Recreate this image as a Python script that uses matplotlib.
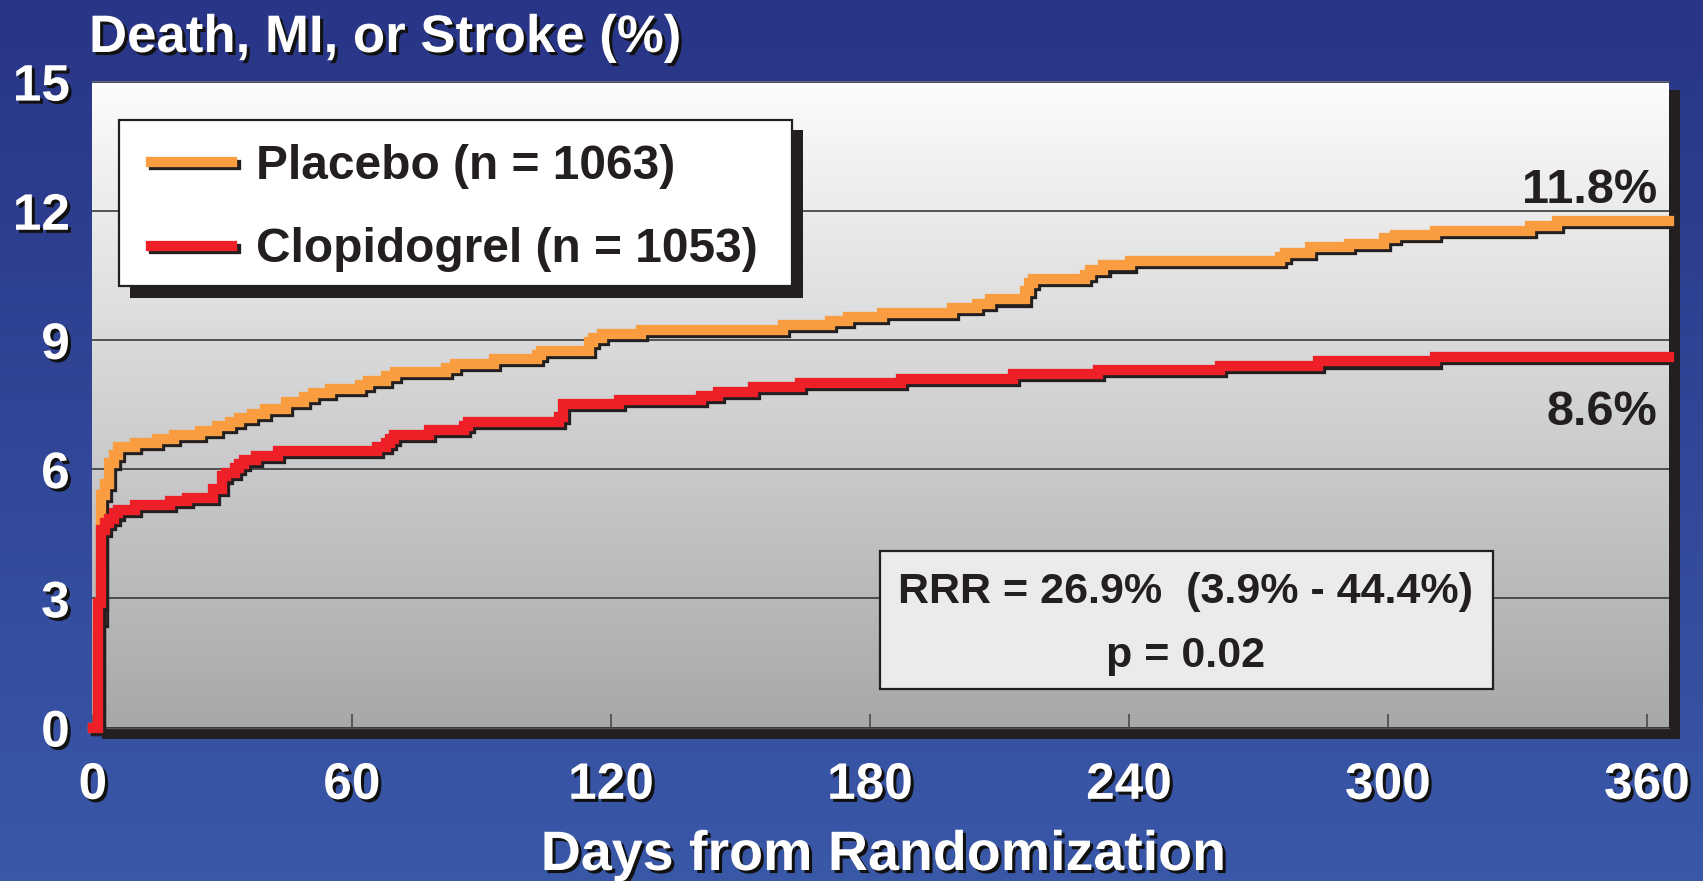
import numpy as np
import matplotlib
matplotlib.use("Agg")
import matplotlib.pyplot as plt
import matplotlib.patheffects as pe
from matplotlib.patches import Rectangle

# ---------------- data ----------------
placebo_days = [0, 1.1, 1.93, 2.86, 3.78, 4.94, 5.87, 9.81, 14.9, 18.8,
                24.9, 28.8, 31.8, 33.9, 36.9, 39.9, 44.8, 49.0, 51.0, 55.0,
                61.9, 63.8, 68.0, 70.0, 81.9, 83.9, 93.0, 102.9, 103.9, 115.0,
                115.9, 118.0, 127.0, 159.9, 170.8, 175.0, 182.9, 199.0, 204.9, 207.8,
                216.0, 216.9, 217.8, 229.9, 231.0, 234.1, 240.2, 274.9, 276.2, 282.0,
                291.0, 299.1, 301.7, 310.9, 333.0, 339.2, 365]
placebo_pct = [0, 2.5, 5.39, 5.66, 6.15, 6.33, 6.52, 6.61, 6.71, 6.80,
               6.89, 7.01, 7.10, 7.19, 7.28, 7.40, 7.56, 7.68, 7.77, 7.86,
               7.96, 8.05, 8.16, 8.26, 8.35, 8.44, 8.56, 8.65, 8.74, 8.95,
               9.04, 9.14, 9.23, 9.35, 9.44, 9.53, 9.62, 9.74, 9.83, 9.94,
               10.13, 10.32, 10.42, 10.52, 10.63, 10.73, 10.84, 10.93, 11.03, 11.15,
               11.23, 11.36, 11.44, 11.54, 11.65, 11.76, 11.76]

clopidogrel_days = [0, 1.1, 1.93, 2.86, 3.78, 4.94, 5.87, 9.81, 17.9, 21.9,
                    27.9, 30.0, 30.9, 33.0, 33.9, 35.1, 37.8, 42.9, 65.9, 68.0,
                    68.9, 69.8, 77.9, 86.0, 86.9, 108.0, 109.0, 121.9, 140.9, 144.9,
                    153.0, 163.9, 187.1, 213.1, 232.9, 261.0, 283.8, 310.9, 365]
clopidogrel_pct = [0, 2.88, 4.58, 4.76, 4.85, 4.97, 5.06, 5.16, 5.25, 5.34,
                   5.55, 5.83, 5.92, 6.03, 6.13, 6.22, 6.31, 6.43, 6.52, 6.61,
                   6.71, 6.80, 6.91, 7.01, 7.10, 7.22, 7.52, 7.61, 7.70, 7.79,
                   7.91, 8.00, 8.09, 8.20, 8.30, 8.39, 8.50, 8.60, 8.60]

series_labels = ["Placebo (n = 1063)", "Clopidogrel (n = 1053)"]
end_labels = ["11.8%", "8.6%"]
x_ticks = [0, 60, 120, 180, 240, 300, 360]
y_ticks = [0, 3, 6, 9, 12, 15]
title_text = "Death, MI, or Stroke (%)"
xlabel_text = "Days from Randomization"
stats_lines = ["RRR = 26.9%  (3.9% - 44.4%)", "p = 0.02"]

# ---------------- styling ----------------
plt.rcParams['font.family'] = ['Liberation Sans', 'DejaVu Sans']
plt.rcParams['font.weight'] = 'bold'

W, H = 1703, 881
def fx(px):
    return px / W
def fy(py):
    return 1 - py / H

ORANGE = '#F99D40'
RED = '#EE1F26'
DARK = '#231F20'

fig = plt.figure(figsize=(W / 100, H / 100), dpi=100)

# background
bg = fig.add_axes([0, 0, 1, 1], zorder=-5)
bg.axis('off')
t = np.linspace(0, 1, 256)[:, None]
top_c = np.array([41, 53, 134]) / 255
bot_c = np.array([58, 88, 168]) / 255
blue = (top_c[None, :] * (1 - t) + bot_c[None, :] * t)[:, None, :]
bg.imshow(blue, extent=[0, 1, 0, 1], aspect='auto', origin='upper', zorder=0)

L, R, B, T = 92, 1669, 727.5, 81.6
bg.add_patch(Rectangle((fx(L + 10), fy(B + 11)), fx(R + 11) - fx(L + 10), fy(T + 8) - fy(B + 11),
                       facecolor=DARK, edgecolor='none', zorder=1))
g_top = np.array([252, 252, 252]) / 255
g_bot = np.array([167, 168, 170]) / 255
gray = (g_top[None, :] * (1 - t) + g_bot[None, :] * t)[:, None, :]
bg.imshow(gray, extent=[fx(L), fx(R), fy(B), fy(T)], aspect='auto', origin='upper', zorder=2)
bg.set_xlim(0, 1)
bg.set_ylim(0, 1)

ax = fig.add_axes([fx(L), fy(B), fx(R) - fx(L), fy(T) - fy(B)])
ax.set_facecolor('none')

shadow = [pe.SimpleLineShadow(offset=(2.2, -2.2), shadow_color=DARK, alpha=1.0), pe.Normal()]
lp, = ax.step(placebo_days, placebo_pct, where='post', color=ORANGE, lw=7.4,
              solid_joinstyle='miter', clip_on=False, zorder=3, label=series_labels[0])
lc, = ax.step(clopidogrel_days, clopidogrel_pct, where='post', color=RED, lw=7.4,
              solid_joinstyle='miter', clip_on=False, zorder=3.1, label=series_labels[1])
lp.set_path_effects(shadow)
lc.set_path_effects(shadow)

ax.set_xlim(-0.2, 365.1)
ax.set_ylim(0, 15)
ax.set_xticks(x_ticks)
ax.set_yticks(y_ticks)
ax.set_xticklabels([str(v) for v in x_ticks])
ax.set_yticklabels([str(v) for v in y_ticks])
ax.yaxis.grid(True, color='#3a3a3a', lw=1.2, zorder=1)
ax.set_axisbelow(True)
ax.tick_params(axis='x', direction='in', length=10, width=1.2, color='#4a4a4a',
               pad=24, labelsize=37, labelcolor='white')
ax.tick_params(axis='y', length=0, pad=16, labelsize=37, labelcolor='white')
for s in ['left', 'right']:
    ax.spines[s].set_visible(False)
ax.spines['top'].set_color('#4a4a62')
ax.spines['top'].set_linewidth(1.2)
ax.spines['bottom'].set_color('#555555')
ax.spines['bottom'].set_linewidth(1.0)

txt_shadow = [pe.SimplePatchShadow(offset=(2.2, -2.2), shadow_rgbFace='#111111', alpha=1.0), pe.Normal()]
for lab in ax.get_xticklabels() + ax.get_yticklabels():
    lab.set_fontweight('bold')
    lab.set_path_effects(txt_shadow)

# title and x label
fig.text(fx(89), fy(52), title_text, fontsize=38, fontweight='bold', color='white',
         ha='left', va='baseline', path_effects=txt_shadow)
fig.text(fx(883), fy(870), xlabel_text, fontsize=40, fontweight='bold', color='white',
         ha='center', va='baseline', path_effects=txt_shadow)

# legend box
ax.add_patch(Rectangle((fx(130), fy(298)), fx(803) - fx(130), fy(130) - fy(298),
                       transform=fig.transFigure, facecolor=DARK, edgecolor='none',
                       zorder=4, clip_on=False))
ax.add_patch(Rectangle((fx(119), fy(286)), fx(792) - fx(119), fy(120) - fy(286),
                       transform=fig.transFigure, facecolor='white', edgecolor=DARK, lw=1.6,
                       zorder=4.1, clip_on=False))
leg = ax.legend(handles=[lp, lc], loc='upper left', bbox_to_anchor=(fx(151), fy(144)),
                bbox_transform=fig.transFigure, frameon=False, borderpad=0, borderaxespad=0,
                handlelength=1.7, handletextpad=0.5, labelspacing=0.8,
                prop={'family': 'Liberation Sans', 'weight': 'bold', 'size': 34.5})
for txt in leg.get_texts():
    txt.set_color(DARK)
leg.set_zorder(5)

# end labels
ax.text(fx(1657), fy(203), end_labels[0], transform=fig.transFigure, fontsize=35,
        fontweight='bold', color=DARK, ha='right', va='baseline', zorder=6)
ax.text(fx(1657), fy(425), end_labels[1], transform=fig.transFigure, fontsize=35,
        fontweight='bold', color=DARK, ha='right', va='baseline', zorder=6)

# stats box
ax.add_patch(Rectangle((fx(880), fy(689)), fx(1493) - fx(880), fy(551) - fy(689),
                       transform=fig.transFigure, facecolor='#EBEBEB', edgecolor=DARK, lw=1.6,
                       zorder=4, clip_on=False))
ax.text(fx(1186), fy(603), stats_lines[0], transform=fig.transFigure, fontsize=31,
        fontweight='bold', color=DARK, ha='center', va='baseline', zorder=6)
ax.text(fx(1186), fy(667), stats_lines[1], transform=fig.transFigure, fontsize=31,
        fontweight='bold', color=DARK, ha='center', va='baseline', zorder=6)

fig.savefig('out.png', dpi=100)
